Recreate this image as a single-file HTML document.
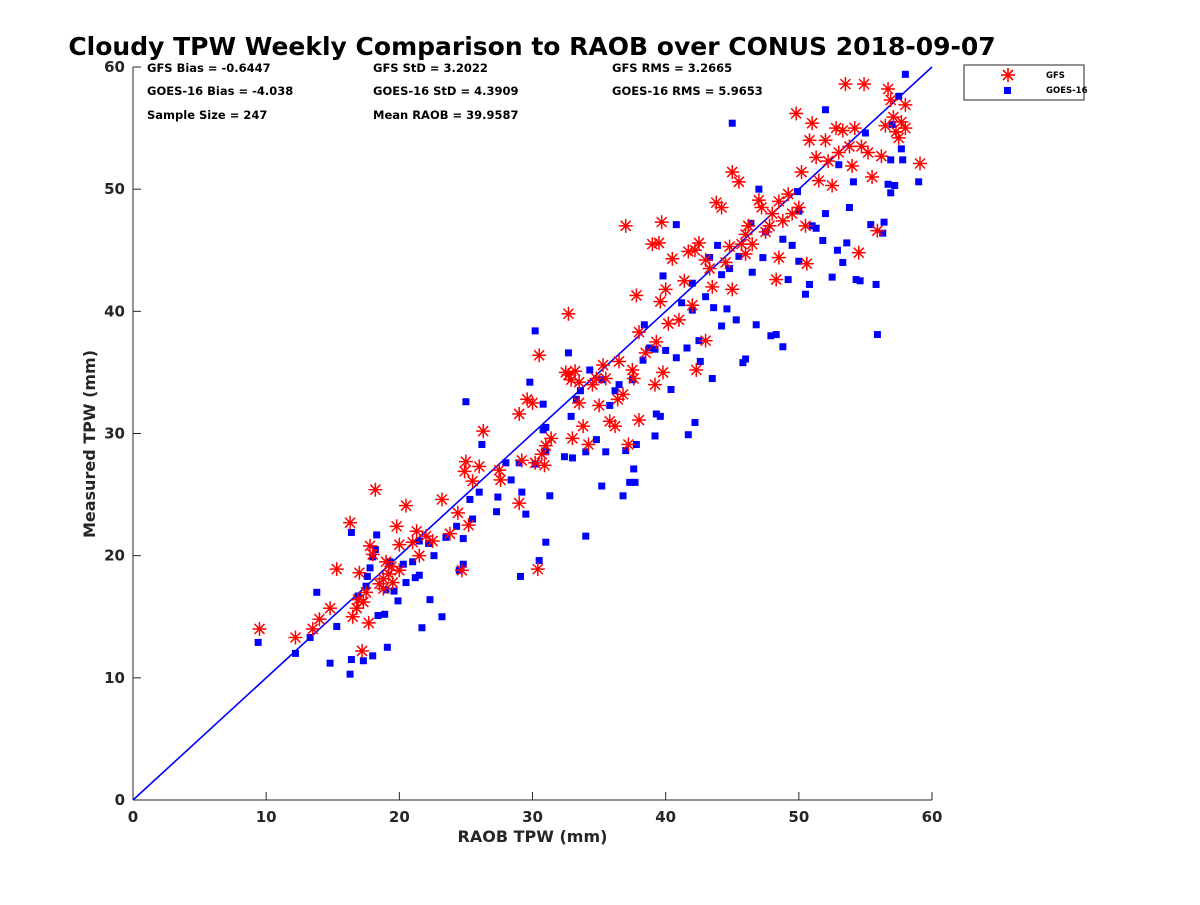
<!DOCTYPE html>
<html><head><meta charset="utf-8"><style>
body{margin:0;background:#fff;}
svg text{font-family:"DejaVu Sans","Liberation Sans",sans-serif;font-weight:bold;}
</style></head><body>
<svg id="chart" width="1200" height="900" xmlns="http://www.w3.org/2000/svg">
<rect width="1200" height="900" fill="#fff"/>
<text x="532" y="55" font-size="25" text-anchor="middle" fill="#000">Cloudy TPW Weekly Comparison to RAOB over CONUS 2018-09-07</text>
<g font-size="11.5" fill="#000">
<text x="147" y="72">GFS Bias = -0.6447</text>
<text x="147" y="95">GOES-16 Bias = -4.038</text>
<text x="147" y="119">Sample Size = 247</text>
<text x="373" y="72">GFS StD = 3.2022</text>
<text x="373" y="95">GOES-16 StD = 4.3909</text>
<text x="373" y="119">Mean RAOB = 39.9587</text>
<text x="612" y="72">GFS RMS = 3.2665</text>
<text x="612" y="95">GOES-16 RMS = 5.9653</text>
</g>
<g id="axes"></g>
<g id="marks"></g>
<g>
<rect x="964" y="65" width="120" height="35" fill="#fff" stroke="#262626" stroke-width="1"/>
<g stroke="#f00" stroke-width="1.6" transform="translate(1008,75)">
<line x1="-7" y1="0" x2="7" y2="0"/><line x1="0" y1="-7" x2="0" y2="7"/><line x1="-5" y1="-5" x2="5" y2="5"/><line x1="-5" y1="5" x2="5" y2="-5"/></g>
<text x="1046" y="78" font-size="8.5">GFS</text>
<rect x="1004" y="87" width="7" height="7" fill="#00f"/>
<text x="1046" y="93" font-size="8.5">GOES-16</text>
</g>
</svg>
<script>
const xTicks=[0,10,20,30,40,50,60];
const yTicks=[0,10,20,30,40,50,60];
const gfsX=[9.5,12.2,13.5,14,14.8,15.3,16.3,16.5,16.8,17,17.2,17.3,17.5,17.8,18,18.2,18.5,18.8,19,19.2,19.5,19.8,20,20.5,21,21.3,21.5,22,22.5,23.2,23.8,24.4,24.7,24.9,25,25.2,25.5,26,26.3,27.5,27.6,29,29,29.2,29.6,30,30.2,30.4,30.5,30.7,30.9,31,31.4,32.5,32.7,32.9,33,33.2,33.5,33.8,34.2,34.5,35,35.3,35.5,35.8,36.2,36.5,36.8,37,37.2,37.5,37.6,37.8,38,38,38.5,39,39.2,39.3,39.5,39.6,39.7,39.8,40,40.2,40.5,41,41.4,41.7,42,42.2,42.3,42.5,43,43,43.5,43.8,44.2,44.5,45,45,45.5,45.7,46,46.2,46.5,47,47.2,47.5,48,48.3,48.5,48.8,49.2,49.5,49.8,50,50.2,50.5,50.6,50.8,51,51.3,51.5,52,52.2,52.5,52.8,53,53.3,53.5,53.8,54,54.2,54.5,54.7,54.9,55.2,55.5,55.9,56.2,56.5,56.7,56.9,57.1,57.3,57.5,57.7,58,59.1,58,48.5,47.8,46,44.8,43.3,36.4,34.8,33.5,32.7,20,18.8,19.4,17.7,16.9];
const gfsY=[14,13.3,14,14.8,15.7,18.9,22.7,15,15.7,18.6,12.2,16.2,17,20.8,20.1,25.4,17.7,18.1,19.5,18.5,17.8,22.4,20.9,24.1,21.1,22,20,21.6,21.2,24.6,21.8,23.5,18.8,26.9,27.7,22.5,26.1,27.3,30.2,27,26.2,24.3,31.6,27.8,32.8,32.5,27.6,18.9,36.4,28.3,27.4,29,29.6,35,39.8,34.4,29.6,35.1,32.5,30.6,29.1,34,32.3,35.6,34.5,31,30.6,35.9,33.2,47,29.1,35.2,34.5,41.3,31.1,38.3,36.6,45.5,34,37.5,45.6,40.8,47.3,35,41.8,39,44.3,39.3,42.5,44.9,40.5,45,35.2,45.6,37.6,44.2,42,48.9,48.5,44,41.8,51.4,50.6,45.5,44.7,47,45.5,49.1,48.5,46.5,48,42.6,44.4,47.4,49.6,48,56.2,48.5,51.4,47,43.9,54,55.4,52.6,50.7,54,52.3,50.3,55,53,54.8,58.6,53.5,51.9,55,44.8,53.5,58.6,53,51,46.6,52.7,55.2,58.2,57.3,55.9,54.7,54.2,55.5,56.9,52.1,55,49,47,46.3,45.3,43.5,32.8,34.5,34.2,34.8,18.8,17.3,19.1,14.5,16.4];
const goesX=[9.4,12.2,13.3,13.8,14.8,15.3,16.3,16.4,16.4,16.9,17.3,17.5,17.6,17.8,18,18.2,18.3,18.4,18.9,19,19.1,19.3,19.6,19.9,20.5,21,21.2,21.5,21.5,21.7,22.3,22.6,23.2,23.5,24.3,24.5,24.8,24.8,25,25.3,26,26.2,27.3,27.4,28.4,29,29.2,29.1,29.5,29.8,30.2,30.2,30.5,30.8,31,31,31.3,31,32.4,32.7,32.9,33,33.3,34,34,34.3,34.8,35.2,35.5,35.8,36.2,36.8,37,37.3,37.6,37.7,37.8,38.3,38.4,38.8,39.2,39.3,39.6,39.8,40,40.4,40.8,41.2,41.6,41.7,42,42.2,42.5,42.6,43,43.5,43.6,43.9,44.2,44.6,44.8,45,45.3,45.8,46,46.4,46.8,47,47.3,47.9,48.3,48.8,49.2,49.5,49.9,50,50.5,50.8,51.3,51.8,52,52.5,52.9,53.3,53.6,53.8,54.1,54.3,54.6,55,55.4,55.8,55.9,56.3,56.4,56.7,56.9,57,57.2,57.5,57.7,58,59,57.8,56.9,53,52,51,50,48.8,47.5,46.5,45.5,44.2,43.3,42,40.8,39.2,37.5,36.5,35.2,33.6,30.8,28,25.5,22.2,20.3,18];
const goesY=[12.9,12,13.3,17,11.2,14.2,10.3,11.5,21.9,16.7,11.4,17.5,18.3,19,11.8,20.5,21.7,15.1,15.2,17.2,12.5,19.5,17.1,16.3,17.8,19.5,18.2,21.2,18.4,14.1,16.4,20,15,21.5,22.4,18.8,19.3,21.4,32.6,24.6,25.2,29.1,23.6,24.8,26.2,27.6,25.2,18.3,23.4,34.2,27.5,38.4,19.6,32.4,21.1,30.5,24.9,28.5,28.1,36.6,31.4,28,32.8,21.6,28.5,35.2,29.5,25.7,28.5,32.3,33.5,24.9,28.6,26,27.1,26,29.1,36,38.9,37,29.8,31.6,31.4,42.9,36.8,33.6,47.1,40.7,37,29.9,42.3,30.9,37.6,35.9,41.2,34.5,40.3,45.4,38.8,40.2,43.5,55.4,39.3,35.8,36.1,47.2,38.9,50,44.4,38,38.1,37.1,42.6,45.4,49.8,44.1,41.4,42.2,46.8,45.8,56.5,42.8,45,44,45.6,48.5,50.6,42.6,42.5,54.6,47.1,42.2,38.1,46.4,47.3,50.4,52.4,55.3,50.3,57.6,53.3,59.4,50.6,52.4,49.7,52,48,47,48.2,45.9,46.5,43.2,44.5,43,44.4,40.1,36.2,36.9,34.4,34,34.4,33.5,30.3,27.6,23,21,19.3,19.9];

const NS='http://www.w3.org/2000/svg';
const L=133,R=932,T=67,B=800;
const sx=v=>L+(v-0)/(60-0)*(R-L);
const sy=v=>B-(v-0)/(60-0)*(B-T);
function mk(tag,attrs,parent){const e=document.createElementNS(NS,tag);for(const k in attrs)e.setAttribute(k,attrs[k]);parent.appendChild(e);return e;}
const axes=document.getElementById('axes');
const marks=document.getElementById('marks');
let xa=mk('line',{x1:L,y1:B,x2:R,y2:B,stroke:'#262626','stroke-width':1},axes);


let ya=mk('line',{x1:L,y1:B,x2:L,y2:T,stroke:'#262626','stroke-width':1},axes);


xTicks.forEach(t=>{
  mk('line',{x1:sx(t),y1:B,x2:sx(t),y2:B-8,stroke:'#262626'},axes);
  const tx=mk('text',{x:sx(t),y:B+22,'font-size':15,'text-anchor':'middle',fill:'#262626'},axes);
  tx.textContent=t;
  
  
});
yTicks.forEach(t=>{
  mk('line',{x1:L,y1:sy(t),x2:L+8,y2:sy(t),stroke:'#262626'},axes);
  const tx=mk('text',{x:L-8,y:sy(t)+5,'font-size':15,'text-anchor':'end',fill:'#262626'},axes);
  tx.textContent=t;
  
  
});
const xt=mk('text',{x:(L+R)/2,y:842,'font-size':16,'text-anchor':'middle',fill:'#262626'},axes);
xt.textContent='RAOB TPW (mm)';


const yt=mk('text',{x:0,y:0,'font-size':16,'text-anchor':'middle',fill:'#262626',transform:'translate(95,444) rotate(-90)'},axes);
yt.textContent='Measured TPW (mm)';


const one=mk('line',{x1:sx(0),y1:sy(0),x2:sx(60),y2:sy(60),stroke:'#00f','stroke-width':1.6},marks);


goesX.forEach((x,i)=>{
  const r=mk('rect',{x:sx(x)-3.5,y:sy(goesY[i])-3.5,width:7,height:7,fill:'#00f'},marks);
  
  
});
gfsX.forEach((x,i)=>{
  const g=mk('g',{transform:`translate(${sx(x)},${sy(gfsY[i])})`,stroke:'#f00','stroke-width':1.5},marks);
  
  
  mk('line',{x1:-7,y1:0,x2:7,y2:0},g);mk('line',{x1:0,y1:-7,x2:0,y2:7},g);
  mk('line',{x1:-5,y1:-5,x2:5,y2:5},g);mk('line',{x1:-5,y1:5,x2:5,y2:-5},g);
});
</script>
</body></html>
